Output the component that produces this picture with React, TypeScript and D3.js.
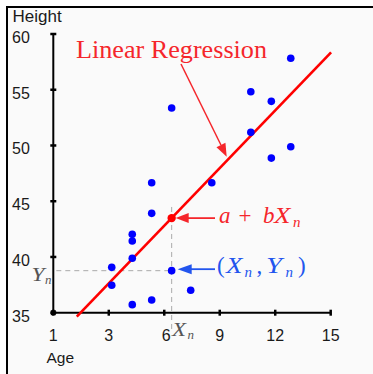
import React from "react";
import * as d3 from "d3";

// ---- data ----
const ages = [3.16, 3.16, 4.27, 4.27, 4.27, 4.27, 5.32, 5.32, 5.32, 6.4, 6.4, 7.43, 8.57, 10.68, 10.68, 11.79, 11.79, 12.84, 12.84];
const heights = [39.07, 37.46, 42.03, 41.43, 39.88, 35.72, 46.66, 43.91, 36.14, 53.36, 38.77, 37.01, 46.66, 54.82, 51.18, 53.96, 48.87, 49.89, 57.82];
const xTickValues = [0, 3, 6, 9, 12, 15];
const xTickLabels = ["1", "3", "6", "9", "12", "15"];
const yTickValues = [35, 40, 45, 50, 55, 60];
const yTickLabels = ["35", "40", "45", "50", "55", "60"];
const intercept = 32.45;
const slope = 1.724;
const lineRange = [1.27, 15.02];
const Xn = 6.4;
const Yn = 38.77;

const W = 373;
const H = 374;

export default function App() {
  const x = d3.scaleLinear().domain([0, 15]).range([53.3, 330.7]);
  const y = d3.scaleLinear().domain([35, 60]).range([312.7, 34]);
  const fit = (v: number) => intercept + slope * v;
  const lineGen = d3
    .line<number>()
    .x((d) => x(d))
    .y((d) => y(fit(d)));

  const sans = "'Liberation Sans', Arial, sans-serif";
  const serif = "'Liberation Serif', 'Times New Roman', serif";
  const red = "#ff0000";
  const textRed = "#f5262b";
  const blueText = "#2255ee";
  const SA = "spacingAndGlyphs";

  const x0 = x(0);
  const y0 = y(35);
  const xn = x(Xn);
  const yFit = y(fit(Xn));
  const yn = y(Yn);

  // arrow from "Linear Regression" label to the line
  const aStart: [number, number] = [181, 64];
  const aTip: [number, number] = [226.7, 156.7];
  const dx = aTip[0] - aStart[0];
  const dy = aTip[1] - aStart[1];
  const len = Math.hypot(dx, dy);
  const ux = dx / len;
  const uy = dy / len;
  const hl = 13;
  const hw = 5;
  const bx = aTip[0] - ux * hl;
  const by = aTip[1] - uy * hl;
  const head = `M${aTip[0]},${aTip[1]} L${bx - uy * hw},${by + ux * hw} L${bx + uy * hw},${by - ux * hw} Z`;

  return (
    <svg
      width={W}
      height={H}
      style={{ position: "absolute", left: 0, top: 0, display: "block", background: "#ffffff" }}
    >
      <rect x={7} y={7} width={380} height={380} fill="#fafafa" stroke="#000" strokeWidth={2} />

      {/* dashed guides */}
      <line x1={xn} x2={xn} y1={y(fit(Xn) + 1)} y2={y0 + 17} stroke="#aaaaaa" strokeWidth={1} strokeDasharray="5,4" />
      <line x1={x0 + 3} x2={xn} y1={yn} y2={yn} stroke="#aaaaaa" strokeWidth={1} strokeDasharray="5,4" />

      {/* axes */}
      <line x1={x0} x2={x0} y1={y(60)} y2={y0} stroke="#000" strokeWidth={2} />
      <line x1={x0} x2={x(15)} y1={y0} y2={y0} stroke="#000" strokeWidth={2} />
      <rect x={x0 - 2.5} y={y0 - 2.5} width={5} height={5} fill="#000" />
      {yTickValues.map((v, i) => (
        <g key={"yt" + i}>
          <line x1={x0 - 3} x2={x0 + 3} y1={y(v)} y2={y(v)} stroke="#000" strokeWidth={2.5} />
          <text x={12} y={y(v) + 9} fontFamily={sans} fontSize={16} fill="#1a1a1a">
            {yTickLabels[i]}
          </text>
        </g>
      ))}
      {xTickValues.map((v, i) => (
        <g key={"xt" + i}>
          <line x1={x(v)} x2={x(v)} y1={y0 - 3} y2={y0 + 3} stroke="#000" strokeWidth={2.5} />
          <text x={x(v) + (i === 2 ? 2 : 0)} y={341} textAnchor="middle" fontFamily={sans} fontSize={16} fill="#1a1a1a">
            {xTickLabels[i]}
          </text>
        </g>
      ))}
      <text x={12.5} y={22} fontFamily={sans} fontSize={17} fill="#1a1a1a">
        Height
      </text>
      <text x={46.5} y={363} fontFamily={sans} fontSize={15.5} fill="#1a1a1a">
        Age
      </text>

      {/* regression line */}
      <path d={lineGen(lineRange) || ""} fill="none" stroke={red} strokeWidth={2.6} />

      {/* points */}
      {ages.map((a, i) => (
        <circle key={"p" + i} cx={x(a)} cy={y(heights[i])} r={3.8} fill="#0000ff" />
      ))}
      <circle cx={xn} cy={yFit} r={4.2} fill={red} />

      {/* Linear Regression label */}
      <text x={76} y={58} fontFamily={serif} fontSize={25.5} fill={textRed} textLength={191} lengthAdjust={SA}>
        Linear Regression
      </text>
      <line x1={aStart[0]} y1={aStart[1]} x2={bx} y2={by} stroke={textRed} strokeWidth={1.5} />
      <path d={head} fill={textRed} />

      {/* a + bXn annotation */}
      <line x1={215} x2={xn + 14} y1={yFit} y2={yFit} stroke={textRed} strokeWidth={1.8} />
      <path d={`M${xn + 4},${yFit} L${xn + 17},${yFit - 5} L${xn + 17},${yFit + 5} Z`} fill={textRed} />
      <text fontFamily={serif} fontSize={23} fill={textRed}>
        <tspan x={219} y={222.5} fontStyle="italic">a</tspan>
        <tspan x={238.5} y={222.5}>+</tspan>
        <tspan x={263} y={222.5} fontStyle="italic">b</tspan>
        <tspan x={274} y={222.5} fontStyle="italic" textLength={16.5} lengthAdjust={SA}>X</tspan>
        <tspan x={293} y={226.5} fontSize={15} fontStyle="italic">n</tspan>
      </text>

      {/* (Xn, Yn) annotation */}
      <line x1={215} x2={xn + 18} y1={yn - 1.5} y2={yn - 1.5} stroke={blueText} strokeWidth={1.8} />
      <path d={`M${xn + 6},${yn - 1.5} L${xn + 20},${yn - 6.5} L${xn + 20},${yn + 3.5} Z`} fill={blueText} />
      <text fontFamily={serif} fontSize={23} fill={blueText}>
        <tspan x={217} y={272.5}>(</tspan>
        <tspan x={226} y={272.5} fontStyle="italic" textLength={16.5} lengthAdjust={SA}>X</tspan>
        <tspan x={244.5} y={276.5} fontSize={15} fontStyle="italic">n</tspan>
        <tspan x={256.5} y={272.5}>,</tspan>
        <tspan x={266} y={272.5} fontStyle="italic" textLength={16} lengthAdjust={SA}>Y</tspan>
        <tspan x={285.5} y={276.5} fontSize={15} fontStyle="italic">n</tspan>
        <tspan x={298} y={272.5}>)</tspan>
      </text>

      {/* Yn / Xn axis labels */}
      <text fontFamily={serif} fontSize={19} fill="#555555">
        <tspan x={31.5} y={280.5} fontStyle="italic" textLength={13} lengthAdjust={SA}>Y</tspan>
        <tspan x={45} y={284} fontSize={13} fontStyle="italic">n</tspan>
      </text>
      <text fontFamily={serif} fontSize={19} fill="#555555">
        <tspan x={172} y={336} fontStyle="italic" textLength={14} lengthAdjust={SA}>X</tspan>
        <tspan x={187.5} y={339} fontSize={13} fontStyle="italic">n</tspan>
      </text>
    </svg>
  );
}
